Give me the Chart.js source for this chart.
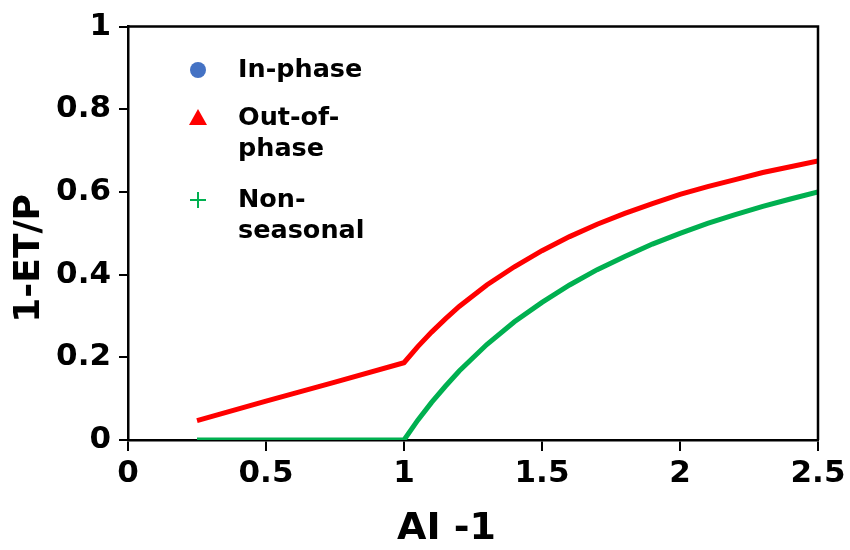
<!DOCTYPE html>
<html>
<head>
<meta charset="utf-8">
<script src="https://cdn.jsdelivr.net/npm/chart.js@4.4.1/dist/chart.umd.min.js"></script>
<style>
html,body{margin:0;padding:0;background:#fff;}
#wrap{width:850px;height:550px;}
</style>
</head>
<body>
<div id="wrap"><canvas id="c" width="850" height="550"></canvas></div>
<script>
// Data
const xValues = [0.25, 0.5, 0.75, 1.0, 1.05, 1.1, 1.15, 1.2, 1.3, 1.4, 1.5, 1.6, 1.7, 1.8, 1.9, 2.0, 2.1, 2.2, 2.3, 2.4, 2.5];
const outOfPhase = [0.047, 0.094, 0.140, 0.187, 0.226, 0.261, 0.293, 0.323, 0.375, 0.419, 0.458, 0.492, 0.522, 0.548, 0.572, 0.594, 0.613, 0.630, 0.647, 0.661, 0.675];
const nonSeasonal = [0, 0, 0, 0, 0.048, 0.091, 0.130, 0.167, 0.231, 0.286, 0.333, 0.375, 0.412, 0.444, 0.474, 0.500, 0.524, 0.545, 0.565, 0.583, 0.600];
const inPhase = [];
const xTicks = [0, 0.5, 1, 1.5, 2, 2.5];
const yTicks = [0, 0.2, 0.4, 0.6, 0.8, 1];
const legendLabels = [["In-phase"], ["Out-of-", "phase"], ["Non-", "seasonal"]];

const FONT = "'DejaVu Sans', sans-serif";
const toPts = (ys) => ys.map((y, i) => ({x: xValues[i], y}));

const frame = {
  id: 'frame',
  afterDraw(chart) {
    const {ctx, chartArea: a} = chart;
    ctx.save();
    ctx.strokeStyle = '#000';
    ctx.lineWidth = 2.5;
    ctx.beginPath();
    ctx.moveTo(a.left, a.top);
    ctx.lineTo(a.right, a.top);
    ctx.lineTo(a.right, a.bottom);
    ctx.stroke();
    ctx.restore();
  }
};

const legendBox = {
  id: 'legendBox',
  afterDraw(chart) {
    const {ctx} = chart;
    const ds = chart.data.datasets;
    const mx = 198, tx = 238;
    const rows = [70, 118, 200];
    const lh = 31;
    ctx.save();
    ctx.fillStyle = ds[0].borderColor;
    ctx.beginPath(); ctx.arc(mx, rows[0], 8, 0, Math.PI * 2); ctx.fill();
    ctx.fillStyle = ds[1].borderColor;
    ctx.beginPath(); ctx.moveTo(mx, rows[1] - 9); ctx.lineTo(mx + 9, rows[1] + 7); ctx.lineTo(mx - 9, rows[1] + 7); ctx.closePath(); ctx.fill();
    ctx.strokeStyle = ds[2].borderColor; ctx.lineWidth = 2;
    ctx.beginPath(); ctx.moveTo(mx - 8, rows[2]); ctx.lineTo(mx + 8, rows[2]); ctx.moveTo(mx, rows[2] - 8); ctx.lineTo(mx, rows[2] + 8); ctx.stroke();
    ctx.fillStyle = '#000';
    ctx.font = "bold 25.5px " + FONT;
    ctx.textBaseline = 'middle';
    ctx.textAlign = 'left';
    legendLabels.forEach((lines, i) => {
      lines.forEach((t, j) => ctx.fillText(t, tx, rows[i] + j * lh));
    });
    ctx.restore();
  }
};

new Chart(document.getElementById('c'), {
  type: 'scatter',
  data: {
    datasets: [
      {label: 'In-phase', data: inPhase, borderColor: '#4472C4', backgroundColor: '#4472C4', showLine: true, pointRadius: 0},
      {label: 'Out-of-phase', data: toPts(outOfPhase), borderColor: '#FF0000', backgroundColor: '#FF0000', showLine: true, pointRadius: 0, borderWidth: 5, tension: 0},
      {label: 'Non-seasonal', data: toPts(nonSeasonal), borderColor: '#00B050', backgroundColor: '#00B050', showLine: true, pointRadius: 0, borderWidth: 5, tension: 0}
    ]
  },
  options: {
    responsive: false,
    animation: false,
    layout: {padding: {left: 0, top: 24, right: 32, bottom: 0}},
    plugins: {legend: {display: false}, tooltip: {enabled: false}},
    scales: {
      x: {
        type: 'linear', min: 0, max: 2.5,
        afterFit: (s) => { s.height = 110; },
        afterBuildTicks: (s) => { s.ticks = xTicks.map(v => ({value: v})); },
        grid: {display: true, drawOnChartArea: false, drawTicks: true, tickLength: 11, color: '#000', lineWidth: 2},
        border: {display: true, color: '#000', width: 2.5},
        ticks: {color: '#000', font: {family: FONT, size: 31, weight: 'bold'}, padding: 4, maxRotation: 0,
          callback: (v) => String(v)},
        title: {display: true, text: 'AI -1    ', color: '#000', font: {family: FONT, size: 38, weight: 'bold', lineHeight: 1}, padding: {top: 0, bottom: 2}}
      },
      y: {
        type: 'linear', min: 0, max: 1,
        afterFit: (s) => { s.width = 128; },
        afterBuildTicks: (s) => { s.ticks = yTicks.map(v => ({value: v})); },
        grid: {display: true, drawOnChartArea: false, drawTicks: true, tickLength: 9, color: '#000', lineWidth: 2},
        border: {display: true, color: '#000', width: 2.5},
        ticks: {color: '#000', font: {family: FONT, size: 31, weight: 'bold'}, padding: 8,
          callback: (v) => String(v)},
        title: {display: true, text: '1-ET/P    ', color: '#000', font: {family: FONT, size: 36, weight: 'bold', lineHeight: 1}, padding: {top: 12, bottom: 0}}
      }
    }
  },
  plugins: [frame, legendBox]
});
</script>
</body>
</html>
